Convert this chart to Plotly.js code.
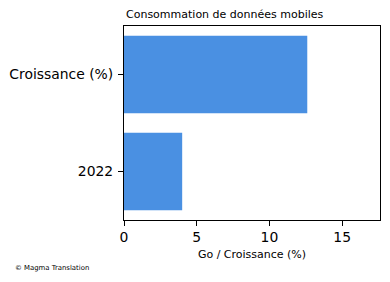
<!DOCTYPE html>
<html>
<head>
<meta charset="utf-8">
<script src="https://cdn.plot.ly/plotly-3.0.1.min.js"></script>
<style>html,body{margin:0;padding:0;background:#fff;}#chart{width:390px;height:282px;}</style>
</head>
<body>
<div id="chart"></div>
<script>
const categories = ["2022", "Croissance (%)"];
const values = [4.0, 12.6];
const xTicks = [0, 5, 10, 15];
const chartTitle = "Consommation de données mobiles";
const xTitle = "Go / Croissance (%)";
const footnote = "© Magma Translation";

const W = 390, H = 282;
const margin = {l: 123.5, r: 10, t: 26, b: 62};
const plotW = W - margin.l - margin.r;
const plotH = H - margin.t - margin.b;
const font = "DejaVu Sans, sans-serif";

const trace = {
  type: "bar",
  orientation: "h",
  x: values,
  y: categories,
  marker: {color: "#4a90e2"},
  width: 0.8,
  hoverinfo: "none"
};

const layout = {
  width: W, height: H,
  margin: margin,
  paper_bgcolor: "#fff",
  plot_bgcolor: "#fff",
  showlegend: false,
  font: {family: font, color: "#000"},
  title: {
    text: chartTitle,
    font: {family: font, size: 11, color: "#000"},
    x: 126 / W, xanchor: "left", xref: "container",
    y: 1 - 14.5 / H, yanchor: "middle", yref: "container"
  },
  xaxis: {
    range: [0, 17.6],
    tickvals: xTicks,
    ticktext: xTicks.map(String),
    ticks: "outside", ticklen: 5, tickwidth: 1, tickcolor: "#000",
    showline: true, linecolor: "#000", linewidth: 1, mirror: true,
    showgrid: false, zeroline: false,
    tickfont: {family: font, size: 13.9, color: "#000"},
    ticklabelstandoff: -1,
    title: {text: xTitle, font: {family: font, size: 11, color: "#000"}, standoff: 6}
  },
  yaxis: {
    type: "category",
    categoryorder: "array", categoryarray: categories,
    range: [-0.5, 1.5],
    ticks: "outside", ticklen: 5, tickwidth: 1, tickcolor: "#000",
    showline: true, linecolor: "#000", linewidth: 1, mirror: true,
    showgrid: false, zeroline: false,
    tickfont: {family: font, size: 13.9, color: "#000"},
    ticklabelstandoff: 2
  },
  annotations: [{
    text: footnote,
    xref: "paper", yref: "paper",
    x: (12 - margin.l) / plotW, xanchor: "left",
    y: -(268 - margin.t - plotH) / plotH, yanchor: "middle",
    showarrow: false,
    font: {family: font, size: 6.9, color: "#000"}
  }]
};

Plotly.newPlot("chart", [trace], layout, {displayModeBar: false, staticPlot: true});
</script>
</body>
</html>
